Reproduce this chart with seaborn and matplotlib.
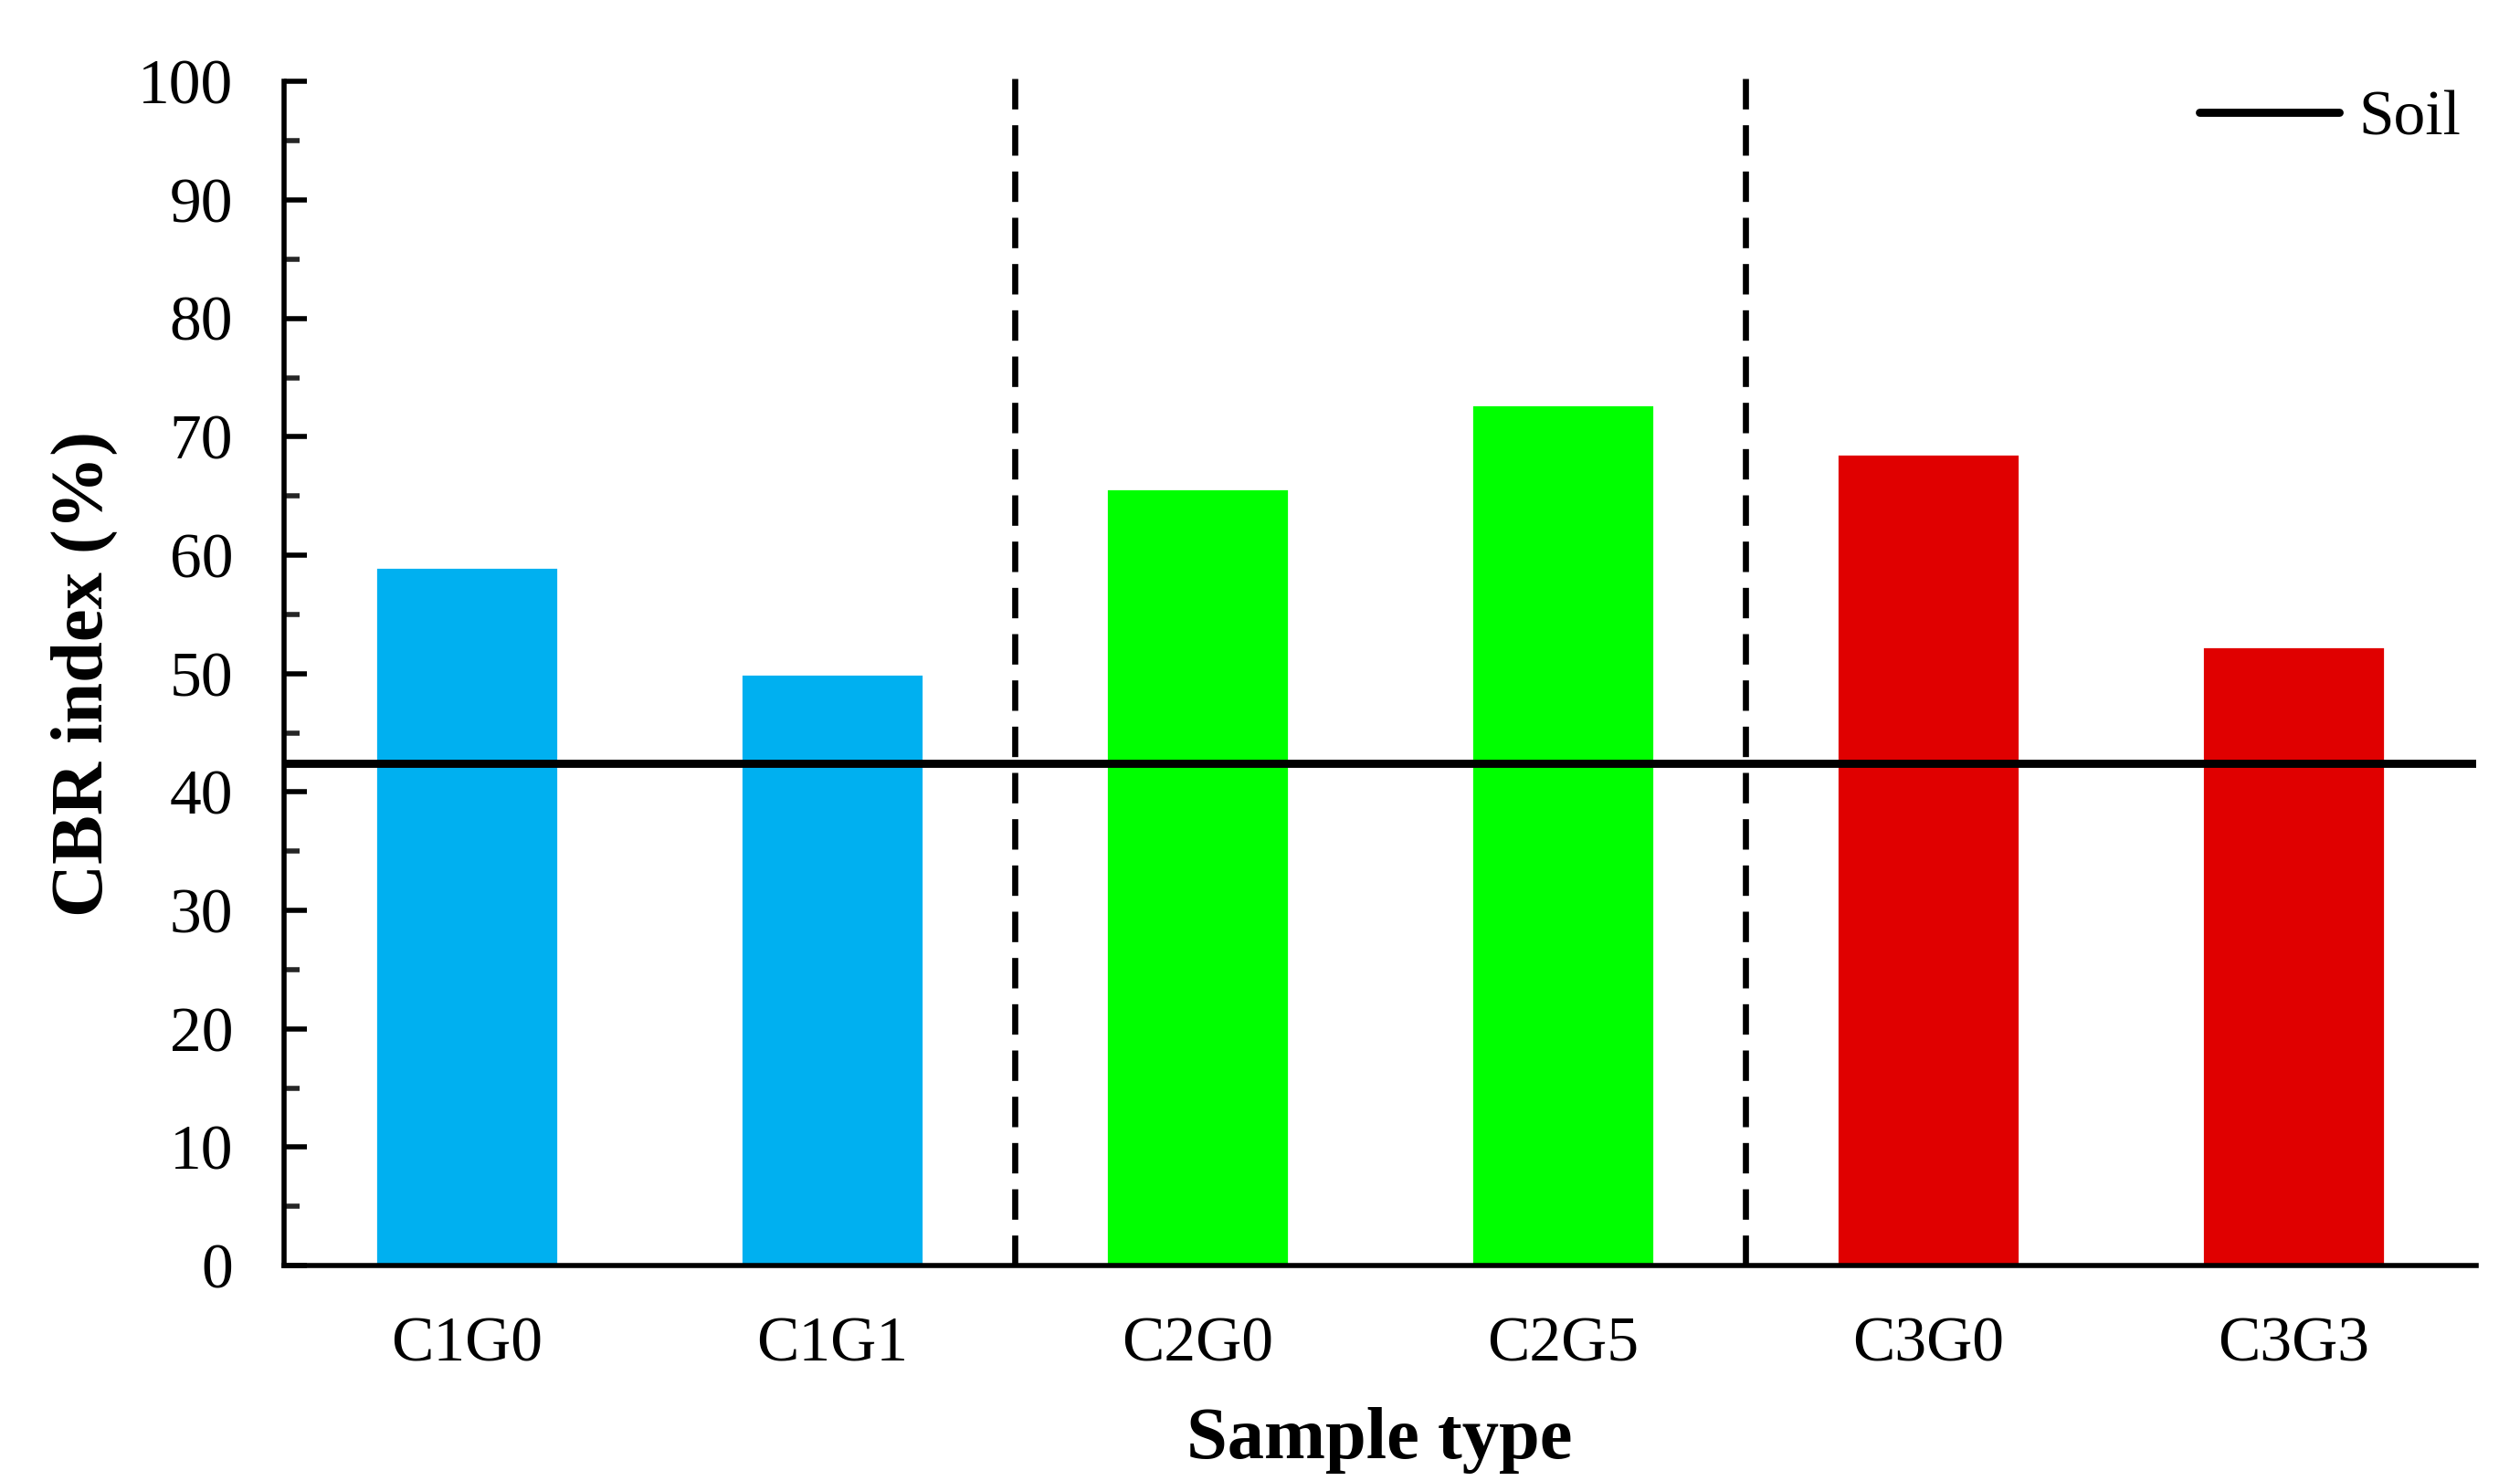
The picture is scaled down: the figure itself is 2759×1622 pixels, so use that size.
import matplotlib

matplotlib.use("Agg")
import matplotlib.pyplot as plt
import numpy as np
import seaborn as sns

# CBR index per sample type
SAMPLES = ["C1G0", "C1G1", "C2G0", "C2G5", "C3G0", "C3G3"]
CBR_VALUES = [59.0, 50.0, 65.6, 72.7, 68.6, 52.3]
BAR_COLORS = ["#00B0F0", "#00B0F0", "#00FF00", "#00FF00", "#E00000", "#E00000"]
SOIL_CBR = 42.4
GROUP_SEPARATORS = [1.5, 3.5]

sns.set_theme(style="white")
plt.rcParams["font.family"] = ["Liberation Serif", "DejaVu Serif"]
plt.rcParams["text.color"] = "black"

fig = plt.figure(figsize=(13.795, 8.11), dpi=200)
ax = fig.add_axes([0.1126, 0.1454, 0.8699, 0.7995])

sns.barplot(
    x=SAMPLES,
    y=CBR_VALUES,
    hue=SAMPLES,
    palette=BAR_COLORS,
    width=0.5,
    saturation=1,
    legend=False,
    ax=ax,
)

# soil reference line
ax.axhline(SOIL_CBR, color="black", lw=3.2, label="Soil", zorder=4)

# dashed group separators
for xs in GROUP_SEPARATORS:
    ax.plot([xs, xs], [0, 101], color="black", lw=2.4, ls=(0, (5, 2.6)),
            clip_on=False, zorder=3)

ax.set_xlim(-0.5, 5.5)
ax.set_ylim(0, 100)
ax.set_yticks(np.arange(0, 101, 10))
ax.set_yticks(np.arange(5, 100, 10), minor=True)

for side in ["top", "right"]:
    ax.spines[side].set_visible(False)
for side in ["left", "bottom"]:
    ax.spines[side].set_color("black")
    ax.spines[side].set_linewidth(2.0)

ax.tick_params(axis="y", which="major", direction="in", length=9, width=2.0,
               labelsize=25, pad=20, left=True, colors="black")
ax.tick_params(axis="y", which="minor", direction="in", length=6, width=2.0,
               left=True)
ax.tick_params(axis="x", length=0, labelsize=25, pad=20, colors="black")

ax.set_xlabel("Sample type", fontsize=29, fontweight="bold", labelpad=13,
              color="black")
ax.set_ylabel("CBR index (%)", fontsize=29, fontweight="bold", labelpad=8,
              color="black")

leg = ax.legend(loc="center right", bbox_to_anchor=(0.993, 0.968),
                frameon=False, fontsize=25, handlelength=2.2,
                handletextpad=0.3, borderpad=0, borderaxespad=0)
for txt in leg.get_texts():
    txt.set_color("black")

fig.savefig("out.png", dpi=200, facecolor="white")
